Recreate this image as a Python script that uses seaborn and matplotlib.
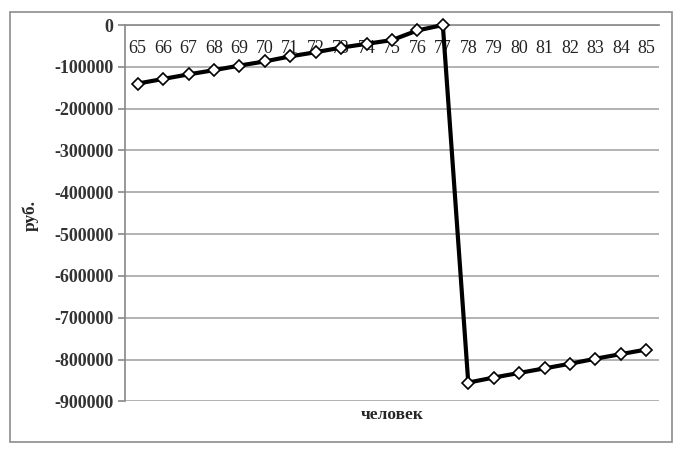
"""
Line chart: руб. vs человек (loss by headcount).
"""

import matplotlib
matplotlib.use("Agg")
import matplotlib.pyplot as plt
from matplotlib.patches import Rectangle
import pandas as pd
import seaborn as sns

# ── Data ─────────────────────────────────────────────────────────────

people = [65, 66, 67, 68, 69, 70, 71, 72, 73, 74, 75,
          76, 77, 78, 79, 80, 81, 82, 83, 84, 85]
rubles = [-140000, -129000, -118000, -108000, -97000, -87000, -75000,
          -65000, -54000, -45000, -36000, -13000, 0,
          -855000, -843000, -832000, -821000, -810000, -798000,
          -787000, -776000]
y_ticks = [0, -100000, -200000, -300000, -400000, -500000,
           -600000, -700000, -800000, -900000]

x_label = "человек"
y_label = "руб."

# ── Theme ────────────────────────────────────────────────────────────

sns.set_theme(style="white")
plt.rcParams["font.family"] = ["Liberation Serif", "DejaVu Serif"]

df = pd.DataFrame({"people": people, "rubles": rubles})

fig = plt.figure(figsize=(6.83, 4.5), dpi=100)
ax = fig.add_axes([0.183, 0.108, 0.7818, 0.8364])

sns.lineplot(
    data=df, x="people", y="rubles", ax=ax,
    color="black", linewidth=3, marker="D", markersize=6.5,
    markerfacecolor="white", markeredgecolor="black", markeredgewidth=1.2,
    zorder=5, clip_on=False,
)

ax.set_xlim(people[0] - 0.5, people[-1] + 0.5)
ax.set_ylim(-900000, 0)
ax.set_yticks(y_ticks)
ax.set_yticklabels([f"{v:d}" for v in y_ticks])
ax.yaxis.grid(True, color="#a6a6a6", linewidth=1.2)
ax.set_axisbelow(True)

# x axis crosses at zero, labels sit under the line
ax.spines["bottom"].set_position(("data", 0))
ax.spines["bottom"].set_color("#8c8c8c")
ax.spines["left"].set_color("#8c8c8c")
ax.spines["top"].set_visible(False)
ax.spines["right"].set_visible(False)

ax.set_xticks(people)
ax.set_xticklabels([str(p) for p in people])
ax.set_xticks([p + 0.5 for p in people], minor=True)
ax.tick_params(axis="x", which="major", length=0, pad=11,
               labelsize=13, labelcolor="#222222")
ax.tick_params(axis="x", which="minor", length=5, direction="in",
               color="#8c8c8c", width=1)
ax.tick_params(axis="y", which="major", length=5, direction="out",
               color="#8c8c8c", left=True, labelsize=13, labelcolor="#333333")
for lbl in ax.get_yticklabels():
    lbl.set_fontweight("bold")

ax.set_xlabel("")
ax.set_ylabel("")
fig.text(0.574, 0.078, x_label, ha="center", va="center",
         fontsize=12.5, fontweight="bold")
fig.text(0.044, 0.522, y_label, ha="center", va="center", rotation=90,
         fontsize=12.5, fontweight="bold")

# outer chart frame
fig.add_artist(Rectangle((0.0146, 0.018), 0.969, 0.955,
                         transform=fig.transFigure, fill=False,
                         edgecolor="#8c8c8c", linewidth=1.2))

fig.savefig("out.png", dpi=100)
plt.close(fig)
